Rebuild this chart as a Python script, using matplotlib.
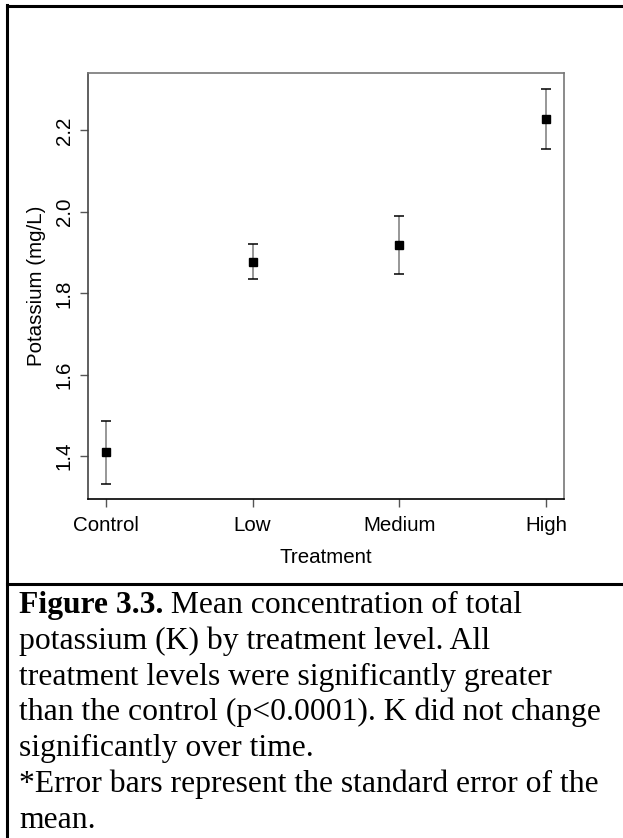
import numpy as np
import matplotlib
matplotlib.use("Agg")
import matplotlib.pyplot as plt
from matplotlib.lines import Line2D

# Mean total potassium by treatment with standard errors
treatments = ["Control", "Low", "Medium", "High"]
k_mean = [1.410, 1.878, 1.919, 2.229]
k_se = [0.077, 0.0435, 0.071, 0.074]
y_ticks = [1.4, 1.6, 1.8, 2.0, 2.2]

caption_bold = "Figure 3.3."
caption_lines = [
    " Mean concentration of total",
    "potassium (K) by treatment level. All",
    "treatment levels were significantly greater",
    "than the control (p<0.0001). K did not change",
    "significantly over time.",
    "*Error bars represent the standard error of the",
    "mean.",
]

W, H = 623, 838
fig = plt.figure(figsize=(W / 100, H / 100), dpi=100)
fig.patch.set_facecolor("white")

# plot panel (pixel box: x 88-564, y 72.7-499.3)
left, right, top, bottom = 88, 564, 72.7, 499.3
ax = fig.add_axes([left / W, 1 - bottom / H, (right - left) / W, (bottom - top) / H])

x = np.arange(1, len(treatments) + 1)
line, caps, bars = ax.errorbar(x, k_mean, yerr=k_se, fmt="s", color="black",
                               markersize=5.8, ecolor="#7a7a7a", elinewidth=1.1,
                               capsize=3.3, capthick=1.1)
for c in caps:
    c.set_color("black")
    c.set_markeredgecolor("black")

# R-style 4% padding on both axes
n = len(treatments)
ax.set_xlim(1 - 0.04 * (n - 1), n + 0.04 * (n - 1))
lo = min(m - s for m, s in zip(k_mean, k_se))
hi = max(m + s for m, s in zip(k_mean, k_se))
pad = 0.04 * (hi - lo)
ax.set_ylim(lo - pad, hi + pad)

sans = "Liberation Sans"
ax.set_xticks(x)
ax.set_xticklabels(treatments, fontsize=14.8, family=sans)
ax.set_yticks(y_ticks)
ax.set_yticklabels([f"{v:.1f}" for v in y_ticks], fontsize=14.8, family=sans,
                   rotation=90, va="center")
ax.tick_params(axis="both", length=5.8, width=1.0, color="#555555")
ax.tick_params(axis="x", pad=6)
ax.tick_params(axis="y", pad=4.5)

ax.set_xlabel("Treatment", fontsize=14.8, family=sans)
ax.set_ylabel("Potassium (mg/L)", fontsize=14.8, family=sans)
ax.xaxis.set_label_coords(0.5, -(548 - bottom) / (bottom - top))
ax.yaxis.set_label_coords(-(left - 46) / (right - left), 0.5)

ax.spines["left"].set_color("#444444")
ax.spines["bottom"].set_color("black")
ax.spines["top"].set_color("#777777")
ax.spines["right"].set_color("#777777")
for s in ax.spines.values():
    s.set_linewidth(1.2)

# frame around figure and caption
lw = 2.2
fig.add_artist(Line2D([6.5 / W, 6.5 / W], [0, 1 - 5 / H], color="black", lw=lw))
fig.add_artist(Line2D([6.5 / W, 1], [1 - 6 / H, 1 - 6 / H], color="black", lw=lw))
fig.add_artist(Line2D([6.5 / W, 1], [1 - 584 / H, 1 - 584 / H], color="black", lw=lw))

# caption
serif = "Liberation Serif"
cap_size = 22.8
x0 = 19
baselines = [613 + i * 35.8 for i in range(len(caption_lines))]
t_bold = fig.text(x0 / W, 1 - baselines[0] / H, caption_bold, fontsize=cap_size,
                  family=serif, weight="bold", va="baseline", ha="left")
renderer = fig.canvas.get_renderer()
bw = t_bold.get_window_extent(renderer=renderer).width
for i, txt in enumerate(caption_lines):
    xx = x0 + bw if i == 0 else x0
    fig.text(xx / W, 1 - baselines[i] / H, txt, fontsize=cap_size, family=serif,
             va="baseline", ha="left")

fig.savefig("out.png", dpi=100)
